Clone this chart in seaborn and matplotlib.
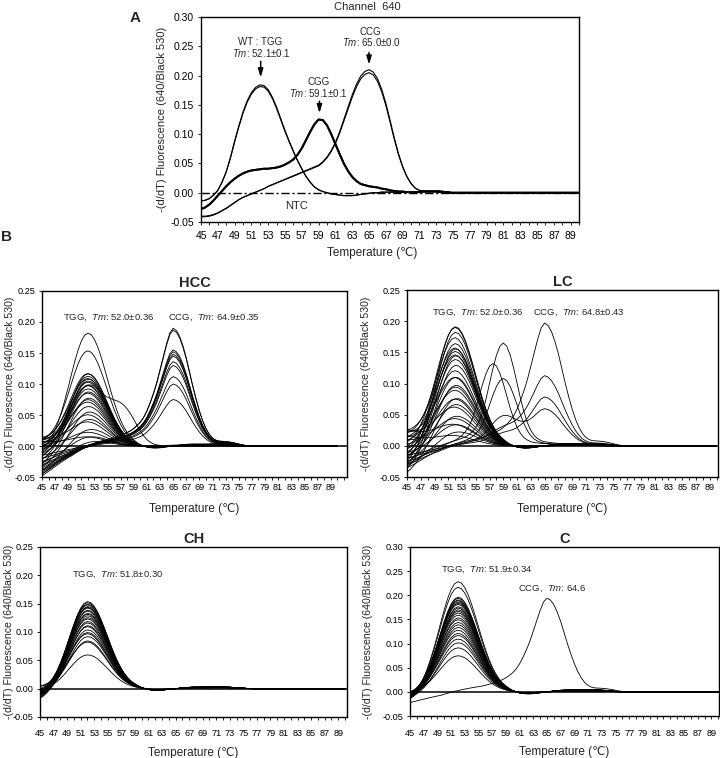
#!/usr/bin/env python3
# -*- coding: utf-8 -*-
"""
Melting curves, channel 640: control genotypes (A) and clinical groups (B)
"""
import numpy as np
import pandas as pd
import seaborn as sns
import matplotlib

matplotlib.use("Agg")
from matplotlib import pyplot as plt
from matplotlib.ticker import FixedLocator, MultipleLocator, FormatStrFormatter

# temperature grid of all curves, 0.5 degree steps
temps = np.arange(45.0, 90.01, 0.5)
temp_ticks = list(range(45, 90, 2))

# ---------------------------------------------------------------- panel A data (45..75 C)
a_tgg = [-0.014, -0.013, -0.010, -0.004, 0.004, 0.018, 0.036, 0.060, 0.088, 0.114,
         0.138, 0.157, 0.171, 0.180, 0.184, 0.183, 0.176, 0.163, 0.146, 0.126,
         0.106, 0.088, 0.071, 0.055, 0.041, 0.028, 0.018, 0.010, 0.005, 0.002,
         0.000, -0.002, -0.003, -0.004, -0.005, -0.005, -0.005, -0.004, -0.003, -0.002,
         -0.001, 0.000, 0.000, 0.001, 0.001, 0.001, 0.001, 0.001, 0.001, 0.001,
         0.002, 0.002, 0.002, 0.003, 0.003, 0.003, 0.002, 0.002, 0.001, 0.001,
         0.000]
a_cgg = [-0.028, -0.025, -0.020, -0.013, -0.005, 0.003, 0.011, 0.018, 0.024, 0.029,
         0.033, 0.036, 0.038, 0.039, 0.040, 0.041, 0.041, 0.042, 0.043, 0.045,
         0.048, 0.052, 0.057, 0.065, 0.076, 0.090, 0.104, 0.117, 0.125, 0.124,
         0.115, 0.100, 0.083, 0.066, 0.050, 0.037, 0.027, 0.020, 0.015, 0.013,
         0.011, 0.010, 0.009, 0.007, 0.006, 0.004, 0.003, 0.002, 0.002, 0.001,
         0.001, 0.001, 0.001, 0.002, 0.002, 0.002, 0.002, 0.001, 0.001, 0.000,
         0.000]
a_ccg = [-0.041, -0.041, -0.040, -0.038, -0.035, -0.031, -0.027, -0.022, -0.017, -0.012,
         -0.008, -0.005, -0.002, 0.001, 0.004, 0.007, 0.011, 0.014, 0.017, 0.020,
         0.023, 0.026, 0.029, 0.032, 0.035, 0.038, 0.041, 0.044, 0.047, 0.053,
         0.061, 0.072, 0.086, 0.104, 0.125, 0.146, 0.167, 0.185, 0.199, 0.207,
         0.210, 0.206, 0.195, 0.177, 0.153, 0.124, 0.094, 0.067, 0.045, 0.028,
         0.016, 0.008, 0.004, 0.002, 0.002, 0.002, 0.003, 0.003, 0.002, 0.001,
         0.000]
a_ntc = [0.0] * len(temps)
# replicate peak ratios (two runs per genotype)
a_tgg_reps = [1.0, 0.985]
a_cgg_reps = [1.0, 1.0]
a_ccg_reps = [1.0, 0.976]

# ---------------------------------------------------------------- peak shapes for panel B (45..77 C)
prof_tgg = [0.035, 0.055, 0.085, 0.126, 0.18, 0.249, 0.334, 0.432, 0.539, 0.651,
            0.76, 0.857, 0.934, 0.983, 1.0, 0.985, 0.942, 0.875, 0.788, 0.69,
            0.586, 0.483, 0.386, 0.3, 0.226, 0.165, 0.118, 0.081, 0.054, 0.03,
            0.012, 0.0, -0.01, -0.015, -0.018, -0.018, -0.016, -0.012, -0.008, -0.004,
            0.0, 0.004, 0.008, 0.012, 0.015, 0.017, 0.018, 0.018, 0.018, 0.018,
            0.018, 0.019, 0.02, 0.02, 0.02, 0.019, 0.017, 0.014, 0.011, 0.008,
            0.005, 0.003, 0.001, 0.0, 0.0]
prof_ccg = [0.0, 0.0, 0.0, 0.0, 0.0, 0.0, 0.0, 0.0, 0.0, 0.0,
            0.005, 0.01, 0.015, 0.02, 0.025, 0.03, 0.035, 0.04, 0.045, 0.05,
            0.056, 0.062, 0.07, 0.08, 0.09, 0.1, 0.115, 0.13, 0.15, 0.175,
            0.205, 0.245, 0.3, 0.37, 0.45, 0.54, 0.65, 0.76, 0.87, 0.96,
            1.0, 0.98, 0.93, 0.85, 0.75, 0.63, 0.51, 0.4, 0.3, 0.215,
            0.15, 0.1, 0.068, 0.05, 0.042, 0.04, 0.038, 0.035, 0.03, 0.024,
            0.017, 0.01, 0.005, 0.002, 0.0]
prof_mid57 = [0.005, 0.01, 0.015, 0.02, 0.025, 0.03, 0.035, 0.04, 0.045, 0.05,
              0.056, 0.062, 0.07, 0.08, 0.092, 0.11, 0.14, 0.18, 0.24, 0.33,
              0.46, 0.61, 0.755, 0.882, 0.969, 1.0, 0.969, 0.882, 0.755, 0.607,
              0.458, 0.33, 0.225, 0.15, 0.1, 0.07, 0.05, 0.04, 0.035, 0.03,
              0.027, 0.024, 0.022, 0.02, 0.018, 0.016, 0.014, 0.012, 0.01, 0.008,
              0.006, 0.005, 0.004, 0.003, 0.002, 0.001, 0.0, 0.0, 0.0, 0.0,
              0.0, 0.0, 0.0, 0.0, 0.0]
prof_mid59 = [0.0, 0.0, 0.0, 0.005, 0.01, 0.015, 0.02, 0.025, 0.03, 0.035,
              0.04, 0.045, 0.05, 0.056, 0.062, 0.07, 0.08, 0.092, 0.11, 0.14,
              0.18, 0.24, 0.33, 0.46, 0.61, 0.755, 0.882, 0.969, 1.0, 0.969,
              0.882, 0.755, 0.607, 0.458, 0.33, 0.225, 0.15, 0.1, 0.07, 0.05,
              0.04, 0.035, 0.03, 0.027, 0.024, 0.022, 0.02, 0.018, 0.016, 0.014,
              0.012, 0.01, 0.008, 0.006, 0.005, 0.004, 0.003, 0.002, 0.001, 0.0,
              0.0, 0.0, 0.0, 0.0, 0.0]
prof_base = [1.0, 0.93, 0.85, 0.77, 0.69, 0.61, 0.53, 0.46, 0.39, 0.33,
             0.27, 0.22, 0.17, 0.13, 0.1, 0.07, 0.05, 0.03, 0.015, 0.005]

# ---------------------------------------------------------------- panel B samples
hcc_tgg = [0.183, 0.153, 0.118, 0.116, 0.113, 0.110, 0.108, 0.106, 0.103, 0.100,
           0.097, 0.093, 0.089, 0.085, 0.080, 0.075, 0.070, 0.065, 0.058, 0.050,
           0.045, 0.038, 0.030, 0.022, 0.017, 0.014, 0.010, 0.095] + [0.0] * 11
hcc_mid57 = [0.0] * 27 + [0.050] + [0.0] * 11
hcc_ccg = [0.0] * 28 + [0.190, 0.187, 0.155, 0.152, 0.148, 0.145, 0.136, 0.130, 0.112, 0.100, 0.075]
hcc_start = [-0.010, 0.005, -0.015, 0.008, -0.005, -0.020, 0.010, -0.012, 0.000, -0.025,
             0.006, -0.008, -0.018, 0.003, -0.030, -0.002, 0.009, -0.014, -0.035, 0.004,
             -0.022, 0.010, -0.040, 0.002, -0.028, 0.007, -0.045, -0.010,
             -0.045, -0.040, -0.035, -0.048, -0.030, -0.025, -0.038, -0.020, -0.042, -0.015, -0.032]

lc_tgg = [0.193, 0.190, 0.185, 0.172, 0.165, 0.158, 0.155, 0.152, 0.148, 0.145,
          0.140, 0.133, 0.120, 0.112, 0.108, 0.100, 0.095, 0.088, 0.080, 0.075,
          0.068, 0.060, 0.050, 0.043, 0.035, 0.032, 0.025, 0.015] + [0.0] * 7
lc_ccg = [0.0] * 28 + [0.197, 0.112, 0.078, 0.058, 0.0, 0.0, 0.0]
lc_mid57 = [0.0] * 32 + [0.132, 0.0, 0.0]
lc_mid59 = [0.0] * 28 + [0.0, 0.015, 0.010, 0.040, 0.0, 0.165, 0.108]
lc_start = [-0.020, 0.000, -0.030, 0.015, -0.010, -0.025, 0.020, -0.005, -0.035, 0.010,
            -0.015, -0.040, 0.005, -0.020, 0.018, -0.030, -0.008, 0.012, -0.045, 0.000,
            -0.018, 0.022, -0.027, 0.008, -0.012, 0.025, -0.033, 0.015,
            -0.020, -0.030, -0.015, -0.025, -0.030, -0.020, -0.035]

ch_tgg = [0.155, 0.153, 0.151, 0.149, 0.147, 0.145, 0.143, 0.140, 0.138, 0.135,
          0.132, 0.130, 0.127, 0.124, 0.120, 0.117, 0.113, 0.110, 0.105, 0.100,
          0.097, 0.093, 0.085, 0.082, 0.060]
ch_start = [-0.015, -0.012, -0.018, -0.010, -0.020, -0.014, -0.008, -0.016, -0.012, -0.022,
            -0.005, -0.013, -0.017, -0.009, -0.015, -0.011, -0.019, -0.006, -0.014, -0.010,
            0.000, -0.012, -0.008, 0.002, -0.004]

c_tgg = [0.230, 0.218, 0.198, 0.195, 0.192, 0.190, 0.188, 0.185, 0.182, 0.178,
         0.175, 0.172, 0.168, 0.165, 0.160, 0.155, 0.150, 0.145, 0.140, 0.135,
         0.128, 0.122, 0.118, 0.110, 0.103, 0.092, 0.075, 0.0]
c_ccg = [0.0] * 27 + [0.194]
c_start = [-0.018, -0.015, -0.020, -0.012, -0.016, -0.010, -0.019, -0.014, -0.008, -0.017,
           -0.013, -0.020, -0.009, -0.015, -0.011, -0.018, -0.006, -0.014, -0.012, -0.016,
           -0.004, -0.010, -0.013, -0.007, -0.015, -0.009, -0.003, -0.022]

YLABEL = "-(d/dT) Fluorescence (640/Black 530)"
XLABEL = "Temperature (\u2103)"


def full(values):
    """Pad a curve read up to some temperature with the flat zero tail."""
    arr = np.asarray(values, dtype=float)
    return np.concatenate([arr, np.zeros(len(temps) - len(arr))])


TGG, CCG, MID57, MID59, BASE = (full(p) for p in (prof_tgg, prof_ccg, prof_mid57, prof_mid59, prof_base))


def panel_frame(start, tgg=None, ccg=None, mid57=None, mid59=None):
    n = len(start)
    zero = [0.0] * n
    tgg, ccg = tgg or zero, ccg or zero
    mid57, mid59 = mid57 or zero, mid59 or zero
    frames = []
    for i in range(n):
        y = tgg[i] * TGG + ccg[i] * CCG + mid57[i] * MID57 + mid59[i] * MID59 + start[i] * BASE
        frames.append(pd.DataFrame({"temp": temps, "value": y, "sample": i}))
    return pd.concat(frames, ignore_index=True)


def style_axis(ax, xmax, yticks, fs_tick, xpad, ypad, xlab_y, ylab_x, fs_ylab=8.0):
    ax.set_xlim(45, xmax)
    ax.set_ylim(yticks[0], yticks[-1])
    ax.xaxis.set_major_locator(FixedLocator(temp_ticks))
    ax.xaxis.set_minor_locator(MultipleLocator(1))
    ax.yaxis.set_major_locator(FixedLocator(yticks))
    ax.yaxis.set_major_formatter(FormatStrFormatter("%.2f"))
    ax.tick_params(axis="both", which="both", direction="out", length=2.5, width=0.6,
                   labelsize=fs_tick, colors="black")
    ax.tick_params(axis="x", pad=xpad)
    ax.tick_params(axis="y", pad=ypad)
    for sp in ax.spines.values():
        sp.set_visible(True)
        sp.set_linewidth(1.0)
        sp.set_color("black")
    ax.set_xlabel(XLABEL, fontsize=8.5)
    ax.set_ylabel(YLABEL, fontsize=fs_ylab)
    ax.xaxis.set_label_coords(0.5, xlab_y)
    ax.yaxis.set_label_coords(ylab_x, 0.5)
    ax.grid(False)


sns.set_style("ticks")
plt.rcParams["font.family"] = ["Liberation Sans", "DejaVu Sans"]
plt.rcParams["mathtext.fontset"] = "custom"
plt.rcParams["mathtext.rm"] = "Liberation Sans"
plt.rcParams["mathtext.it"] = "Liberation Sans:italic"

fig = plt.figure(figsize=(7.2, 7.58), dpi=100)
fig.patch.set_facecolor("white")

# ------------------------------------------------------------------ panel A
ax_a = fig.add_axes([0.2792, 0.7071, 0.525, 0.2705])
for curve, reps, lw in ((a_tgg, a_tgg_reps, 0.8), (a_cgg, a_cgg_reps, 1.4), (a_ccg, a_ccg_reps, 0.8)):
    for r in reps:
        sns.lineplot(x=temps, y=full(curve) * r, color="black", lw=lw, ax=ax_a)
sns.lineplot(x=temps, y=a_ntc, color="black", lw=1.0, ax=ax_a)
ax_a.lines[-1].set_linestyle((0, (6, 2, 1.5, 2)))

style_axis(ax_a, 90, [-0.05, 0.0, 0.05, 0.10, 0.15, 0.20, 0.25, 0.30], 7.5, 4, 2.5, -0.122, -0.09)
ax_a.xaxis.set_label_coords(0.452, -0.122)

tm = r"$\mathit{Tm}$"
ax_a.text(52.0, 0.257, "WT : TGG", ha="center", va="center", fontsize=7)
ax_a.text(52.2, 0.238, tm + ": 52.1\u00b10.1", ha="center", va="center", fontsize=7)
ax_a.text(59.0, 0.189, "CGG", ha="center", va="center", fontsize=7)
ax_a.text(59.0, 0.171, tm + ": 59.1\u00b10.1", ha="center", va="center", fontsize=7)
ax_a.text(65.1, 0.275, "CCG", ha="center", va="center", fontsize=7)
ax_a.text(65.3, 0.257, tm + ": 65.0\u00b10.0", ha="center", va="center", fontsize=7)
ax_a.text(56.4, -0.023, "NTC", ha="center", va="center", fontsize=8)
arrow = dict(arrowstyle="-|>,head_length=0.5,head_width=0.15", color="black", lw=1.1)
ax_a.annotate("", xy=(52.1, 0.192), xytext=(52.1, 0.229), arrowprops=arrow)
ax_a.annotate("", xy=(59.1, 0.131), xytext=(59.1, 0.161), arrowprops=arrow)
ax_a.annotate("", xy=(65.0, 0.214), xytext=(65.0, 0.244), arrowprops=arrow)
fig.text(0.51, 0.991, "Channel  640", ha="center", va="center", fontsize=8)
fig.text(0.1875, 0.976, "A", ha="center", va="center", fontsize=11, fontweight="bold")
fig.text(0.009, 0.687, "B", ha="center", va="center", fontsize=11, fontweight="bold")

# ------------------------------------------------------------------ panel B
yt25 = [-0.05, 0.0, 0.05, 0.10, 0.15, 0.20, 0.25]
yt30 = yt25 + [0.30]
panels = [
    ("HCC", [0.0583, 0.3707, 0.4236, 0.2454], panel_frame(hcc_start, hcc_tgg, hcc_ccg, hcc_mid57),
     91.5, yt25, 2, -0.14, -0.088,
     [(48.2, 0.206, "TGG,  " + tm + ": 52.0\u00b10.36"), (64.2, 0.206, "CCG,  " + tm + ": 64.9\u00b10.35")]),
    ("LC", [0.5653, 0.3707, 0.4319, 0.2467], panel_frame(lc_start, lc_tgg, lc_ccg, lc_mid57, lc_mid59),
     90.2, yt25, 2, -0.14, -0.115,
     [(48.7, 0.214, "TGG,  " + tm + ": 52.0\u00b10.36"), (63.3, 0.214, "CCG,  " + tm + ": 64.8\u00b10.43")]),
    ("CH", [0.0556, 0.0541, 0.4264, 0.2243], panel_frame(ch_start, ch_tgg),
     90.3, yt25, 6.5, -0.176, -0.086,
     [(49.7, 0.200, "TGG,  " + tm + ": 51.8\u00b10.30")]),
    ("C", [0.5694, 0.0554, 0.4292, 0.2230], panel_frame(c_start, c_tgg, c_ccg),
     90.1, yt30, 6.5, -0.176, -0.12,
     [(49.6, 0.253, "TGG,  " + tm + ": 51.9\u00b10.34"), (60.8, 0.213, "CCG,  " + tm + ": 64.6")]),
]

for title, rect, df, xmax, yticks, xpad, xlab_y, ylab_x, notes in panels:
    ax = fig.add_axes(rect)
    ax.axhline(0, color="black", lw=1.1, zorder=1)
    sns.lineplot(data=df, x="temp", y="value", units="sample", estimator=None,
                 color="black", lw=0.6, ax=ax, legend=False)
    style_axis(ax, xmax, yticks, 6.6, xpad, 2, xlab_y, ylab_x, fs_ylab=7.6)
    ax.set_title(title, fontsize=10.5, fontweight="bold", pad=3)
    for x, y, txt in notes:
        ax.text(x, y, txt, ha="left", va="center", fontsize=6.8)

fig.savefig("out.png", dpi=100)
